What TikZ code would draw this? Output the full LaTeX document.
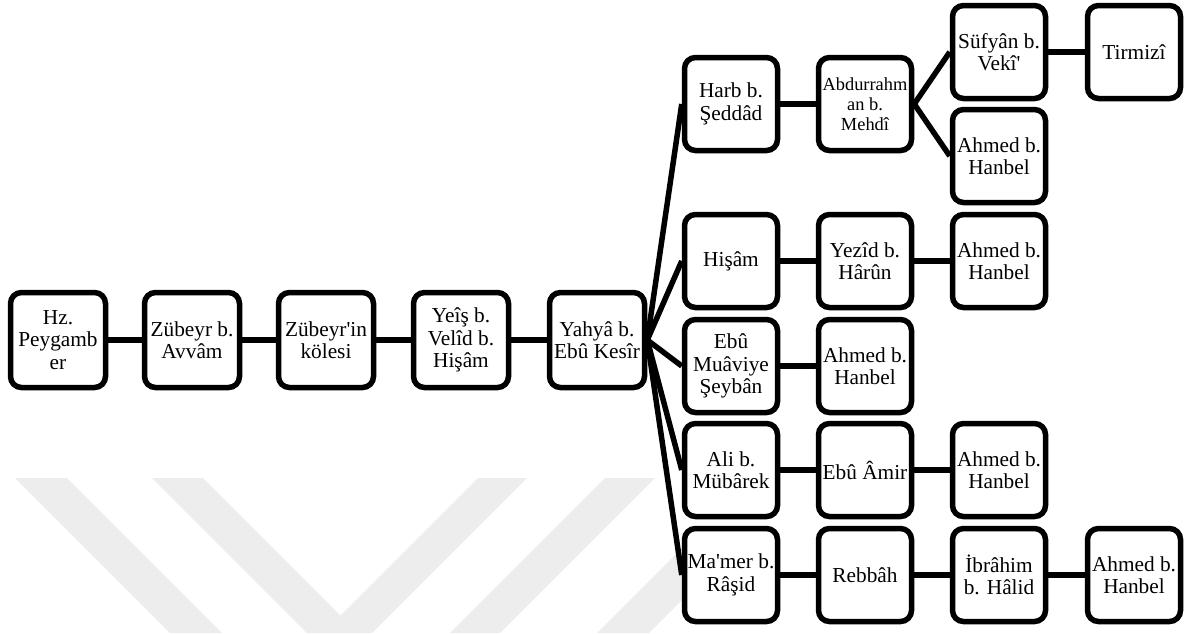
\documentclass[tikz,border=0pt]{standalone}
\usepackage{fontspec}
\setmainfont{Liberation Serif}[Ligatures=TeXOff]
\pgfdeclarelayer{wm}
\pgfdeclarelayer{edges}
\pgfsetlayers{wm,edges,main}
\begin{document}
\begin{tikzpicture}[x=1pt,y=-1pt,
  box/.style={draw=black, line width=5.5pt, rounded corners=11pt, fill=white,
    minimum width=93pt, minimum height=93pt, inner sep=0pt, align=center,
    font=\fontsize{21.3}{22.5}\selectfont},
  bigbox/.style={box, minimum width=95pt, minimum height=95pt},
  smalltext/.style={font=\fontsize{18.4}{20}\selectfont},
  link/.style={draw=black, line width=5.5pt},
  wmark/.style={fill=black!7, draw=none}]
\useasboundingbox (0,0) rectangle (1192,633);

% left chain
\node[bigbox] (hz) at (58,340) {Hz.\\Peygamb\\er};
\node[bigbox] (zub) at (192,340) {Zübeyr b.\\Avvâm};
\node[bigbox] (kol) at (326,340) {Zübeyr'in\\kölesi};
\node[bigbox] (yeis) at (461,340) {Yeîş b.\\Velîd b.\\Hişâm};
\node[bigbox] (yahya) at (597,340) {Yahyâ b.\\Ebû Kesîr};

% right part
\node[box] (harb) at (731,104) {Harb b.\\Şeddâd};
\node[box,smalltext] (abd) at (865,104) {Abdurrahm\\an b.\\Mehdî};
\node[box] (sufyan) at (999,52) {Süfyân b.\\Vekî'};
\node[box] (tirmizi) at (1134,52) {Tirmizî};
\node[box] (ahmeda) at (999,156) {Ahmed b.\\Hanbel};
\node[box] (hisam) at (731,261) {Hişâm};
\node[box] (yezid) at (865,261) {Yezîd b.\\Hârûn};
\node[box] (ahmedb) at (999,261) {Ahmed b.\\Hanbel};
\node[box] (ebumuav) at (731,366) {Ebû\\Muâviye\\Şeybân};
\node[box] (ahmedc) at (865,366) {Ahmed b.\\Hanbel};
\node[box] (ali) at (731,470) {Ali b.\\Mübârek};
\node[box] (ebuamir) at (865,470) {Ebû Âmir};
\node[box] (ahmedd) at (999,470) {Ahmed b.\\Hanbel};
\node[box] (mamer) at (731,575) {Ma'mer b.\\Râşid};
\node[box] (rebbah) at (865,575) {Rebbâh};
\node[box] (ibrahim) at (999,575) {İbrâhim\\b. Hâlid};
\node[box] (ahmede) at (1134,575) {Ahmed b.\\Hanbel};

\begin{pgfonlayer}{wm}
\begin{scope}
\clip (0,0) rectangle (1192,633);
\fill[wmark] (15,478) -- (67,478) -- (222,633) -- (170,633) -- cycle;
\fill[wmark] (152,478) -- (203,478) -- (340.5,615.5) -- (478,478) -- (527,478)
   -- (372,633) -- (307,633) -- cycle;
\fill[wmark] (605,478) -- (655,478) -- (500,633) -- (450,633) -- cycle;
\fill[wmark] (700,530) -- (752,530) -- (649,633) -- (597,633) -- cycle;
\end{scope}
\end{pgfonlayer}

\begin{pgfonlayer}{edges}
\draw[link] (hz) -- (zub);
\draw[link] (zub) -- (kol);
\draw[link] (kol) -- (yeis);
\draw[link] (yeis) -- (yahya);
\foreach \t in {harb,hisam,ebumuav,ali,mamer}
  \draw[link] (yahya.east) -- (\t.west);
\draw[link] (harb) -- (abd);
\draw[link] (abd.east) -- (sufyan.west);
\draw[link] (abd.east) -- (ahmeda.west);
\draw[link] (sufyan) -- (tirmizi);
\draw[link] (hisam) -- (yezid);
\draw[link] (yezid) -- (ahmedb);
\draw[link] (ebumuav) -- (ahmedc);
\draw[link] (ali) -- (ebuamir);
\draw[link] (ebuamir) -- (ahmedd);
\draw[link] (mamer) -- (rebbah);
\draw[link] (rebbah) -- (ibrahim);
\draw[link] (ibrahim) -- (ahmede);
\end{pgfonlayer}
\end{tikzpicture}
\end{document}
